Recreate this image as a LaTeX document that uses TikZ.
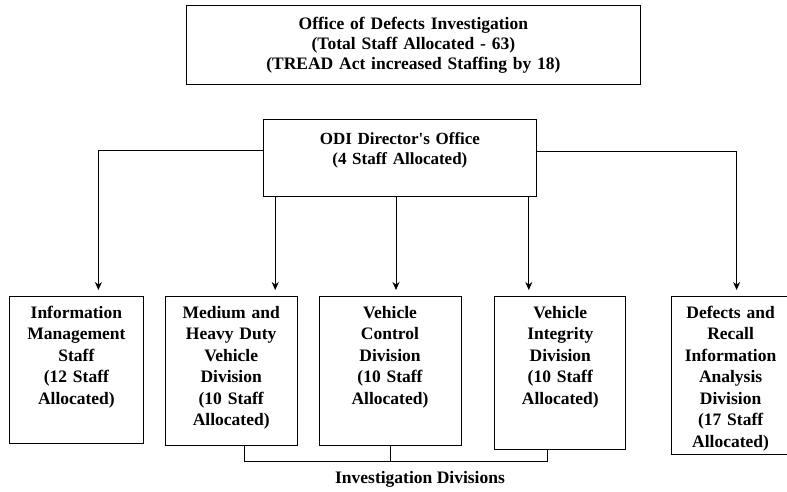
\documentclass[tikz,border=0pt]{standalone}
\usepackage{fontspec}
\setmainfont{Liberation Serif}
\usetikzlibrary{arrows.meta,positioning}

\begin{document}
\begin{tikzpicture}[x=1pt,y=-1pt,
	box/.style={draw, line width=0.8pt, anchor=north west, align=center, inner xsep=3pt, inner ysep=0pt, text height=22pt, font=\fontsize{17.5pt}{21.5pt}\selectfont\bfseries},
	link/.style={line width=0.8pt, -{Stealth[length=8pt,width=7pt]}, shorten >=6pt},
	]
	\useasboundingbox (0,0) rectangle (787,492);
	\node[box, text width=448pt, text height=24pt, text depth=55pt, font=\fontsize{17.5pt}{20pt}\selectfont\bfseries] (odi) at (186,5) {Office of Defects Investigation\\(Total Staff Allocated - 63)\\(TREAD Act increased Staffing by 18)};
	\node[box, text width=267pt, text height=25pt, text depth=52pt, font=\fontsize{17pt}{20pt}\selectfont\bfseries] (dir) at (263,119) {ODI Director\textquotesingle s Office\\(4 Staff Allocated)};

	\node[box, text width=128pt, text depth=125pt] (info) at (9,296) {Information\\Management\\Staff\\(12 Staff\\Allocated)};
	\node[box, text width=126pt, text depth=127pt, right=21pt of info.north east, anchor=north west] (medium) {Medium and\\Heavy Duty\\Vehicle\\Division\\(10 Staff\\Allocated)};
	\node[box, text width=136pt, text depth=127pt, right=21pt of medium.north east, anchor=north west] (control) {Vehicle\\Control\\Division\\(10 Staff\\Allocated)};
	\node[box, text width=125pt, text depth=131pt, right=33pt of control.north east, anchor=north west] (integrity) {Vehicle\\Integrity\\Division\\(10 Staff\\Allocated)};
	\node[box, text width=112pt, text depth=136pt, right=45pt of integrity.north east, anchor=north west] (defects) {Defects and\\Recall\\Information\\Analysis\\Division\\(17 Staff\\Allocated)};

	\draw[link] ([yshift=7pt]dir.west) -| ([xshift=22pt]info.north);
	\draw[link] ([yshift=6pt]dir.east) -| ([xshift=6pt]defects.north);
	\draw[link] ([xshift=44pt]medium.north |- dir.south) -- ([xshift=44pt]medium.north);
	\draw[link] ([xshift=6pt]control.north |- dir.south) -- ([xshift=6pt]control.north);
	\draw[link] ([xshift=-31.5pt]integrity.north |- dir.south) -- ([xshift=-31.5pt]integrity.north);

	\draw[line width=0.8pt] ([xshift=13pt]medium.south) -- ++(0,16) -| ([xshift=-12.5pt]integrity.south);
	\draw[line width=0.8pt] (control.south) -- ++(0,16);
	\node[font=\fontsize{17.5pt}{21pt}\selectfont\bfseries] (invdiv) at (420,479) {Investigation Divisions};
\end{tikzpicture}
\end{document}
